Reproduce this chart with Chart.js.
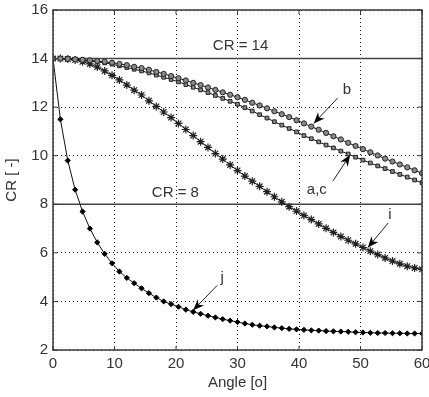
<!DOCTYPE html>
<html><head><meta charset="utf-8">
<script src="https://cdn.jsdelivr.net/npm/chart.js@4/dist/chart.umd.min.js"></script>
<style>html,body{margin:0;padding:0;background:#fff;overflow:hidden}#wrap{width:429px;height:397px;position:relative}</style>
</head><body><div id="wrap"><canvas id="c" width="429" height="397"></canvas></div>
<script>
// ---- data ----
const angles = [0,1.2,2.4,3.6,4.8,6,7.2,8.4,9.6,10.8,12,13.2,14.4,15.6,16.8,18,19.2,20.4,21.6,22.8,24,25.2,26.4,27.6,28.8,30,31.2,32.4,33.6,34.8,36,37.2,38.4,39.6,40.8,42,43.2,44.4,45.6,46.8,48,49.2,50.4,51.6,52.8,54,55.2,56.4,57.6,58.8,60];
const seriesB = [14.00,14.00,13.99,13.97,13.95,13.93,13.90,13.87,13.83,13.78,13.73,13.66,13.61,13.54,13.45,13.37,13.28,13.19,13.10,13.00,12.91,12.81,12.71,12.61,12.51,12.41,12.30,12.18,12.07,11.95,11.83,11.71,11.59,11.46,11.33,11.20,11.07,10.94,10.80,10.67,10.53,10.40,10.27,10.14,10.01,9.88,9.76,9.64,9.52,9.40,9.28];
const seriesAC = [14.00,14.00,13.99,13.96,13.93,13.90,13.86,13.82,13.77,13.70,13.63,13.56,13.49,13.41,13.32,13.23,13.14,13.04,12.93,12.82,12.71,12.60,12.48,12.36,12.24,12.12,11.98,11.84,11.69,11.55,11.40,11.26,11.12,10.98,10.83,10.70,10.57,10.44,10.32,10.19,10.07,9.94,9.82,9.70,9.58,9.47,9.35,9.23,9.12,9.00,8.89];
const seriesI = [14.0,14.0,13.98,13.94,13.87,13.78,13.65,13.49,13.31,13.12,12.91,12.70,12.50,12.26,12.03,11.80,11.57,11.33,11.08,10.83,10.58,10.34,10.09,9.86,9.62,9.39,9.16,8.95,8.74,8.52,8.31,8.10,7.90,7.72,7.54,7.37,7.19,7.01,6.84,6.67,6.52,6.37,6.22,6.07,5.93,5.79,5.66,5.55,5.45,5.38,5.32];
const seriesJ = [14.0,11.5,9.8,8.6,7.7,7.0,6.43,5.96,5.57,5.23,4.97,4.75,4.54,4.34,4.16,4.0,3.89,3.78,3.66,3.57,3.49,3.41,3.34,3.27,3.21,3.15,3.09,3.04,3.0,2.97,2.93,2.9,2.87,2.85,2.83,2.81,2.8,2.78,2.77,2.76,2.75,2.73,2.72,2.71,2.70,2.70,2.69,2.69,2.68,2.68,2.68];
const refLevels = [14, 8];
const refLabels = ["CR = 14", "CR = 8"];
const xRange = [0, 60];
const yRange = [2, 16];
const xTicks = [0,10,20,30,40,50,60];
const yTicks = [2,4,6,8,10,12,14,16];
const xTitle = "Angle [o]";
const yTitle = "CR [ -]";
// annotation placement (data units)
const refLabelPos = [[30.5,14.52],[19.9,8.47]];
const curveNotes = [
  {text:"b",   label:[47.8,12.7], tail:[46.3,12.38], tip:[42.4,11.33]},
  {text:"a,c", label:[42.9,8.59], tail:[45.5,8.95],  tip:[48.3,10.03]},
  {text:"i",   label:[54.8,7.56], tail:[54.5,7.23],  tip:[51.2,6.22]},
  {text:"j",   label:[27.5,4.97], tail:[26.7,4.66],  tip:[22.8,3.64]}
];

const pts = arr => angles.map((a,i)=>({x:a,y:arr[i]}));
const FONT = '"Liberation Sans", Arial, sans-serif';

const deco = {
  id:'deco',
  afterDatasetsDraw(chart){
    const {ctx, chartArea:a, scales:{x,y}} = chart;
    ctx.save();
    // frame
    ctx.strokeStyle='#3a3a3a'; ctx.lineWidth=1.5;
    ctx.strokeRect(a.left, a.top, a.right-a.left, a.bottom-a.top);
    // inward ticks
    ctx.lineWidth=1; ctx.strokeStyle='#3a3a3a';
    ctx.beginPath();
    xTicks.forEach(v=>{const p=x.getPixelForValue(v);ctx.moveTo(p,a.bottom);ctx.lineTo(p,a.bottom-4);ctx.moveTo(p,a.top);ctx.lineTo(p,a.top+4);});
    yTicks.forEach(v=>{const p=y.getPixelForValue(v);ctx.moveTo(a.left,p);ctx.lineTo(a.left+4,p);ctx.moveTo(a.right,p);ctx.lineTo(a.right-4,p);});
    ctx.stroke();
    // reference labels
    ctx.fillStyle='#333'; ctx.font='15px '+FONT; ctx.textAlign='center'; ctx.textBaseline='middle';
    refLabels.forEach((t,i)=>{ctx.fillText(t, x.getPixelForValue(refLabelPos[i][0]), y.getPixelForValue(refLabelPos[i][1]));});
    // curve notes with arrows
    curveNotes.forEach(n=>{
      const lx=x.getPixelForValue(n.label[0]), ly=y.getPixelForValue(n.label[1]);
      ctx.fillStyle='#333'; ctx.fillText(n.text, lx, ly);
      const tx=x.getPixelForValue(n.tail[0]), ty=y.getPixelForValue(n.tail[1]);
      const hx=x.getPixelForValue(n.tip[0]), hy=y.getPixelForValue(n.tip[1]);
      ctx.strokeStyle='#222'; ctx.lineWidth=1;
      ctx.beginPath(); ctx.moveTo(tx,ty); ctx.lineTo(hx,hy); ctx.stroke();
      const ang=Math.atan2(hy-ty,hx-tx), L=11, W=4.5;
      const bx=hx-L*Math.cos(ang), by=hy-L*Math.sin(ang);
      const nx=hx-(L*0.7)*Math.cos(ang), ny=hy-(L*0.7)*Math.sin(ang);
      ctx.fillStyle='#000';
      ctx.beginPath(); ctx.moveTo(hx,hy);
      ctx.lineTo(bx+W*Math.sin(ang), by-W*Math.cos(ang));
      ctx.lineTo(nx,ny);
      ctx.lineTo(bx-W*Math.sin(ang), by+W*Math.cos(ang));
      ctx.closePath(); ctx.fill();
    });
    ctx.restore();
  }
};

const curveBase = {showLine:true, borderColor:'#111', borderWidth:1, tension:0, fill:false};
new Chart(document.getElementById('c'), {
  type:'scatter',
  data:{datasets:[
    {...curveBase, label:'b', data:pts(seriesB), pointStyle:'circle', pointRadius:2.6, pointBackgroundColor:'#8a8a8a', pointBorderColor:'#222', pointBorderWidth:1},
    {...curveBase, label:'a,c', data:pts(seriesAC), pointStyle:'rect', pointRadius:2.6, pointBackgroundColor:'#8a8a8a', pointBorderColor:'#222', pointBorderWidth:1},
    {...curveBase, label:'i', data:pts(seriesI), pointStyle:'star', pointRadius:4, pointBorderColor:'#222', pointBackgroundColor:'#222', pointBorderWidth:1.2},
    {...curveBase, label:'j', data:pts(seriesJ), pointStyle:'rectRot', pointRadius:2.6, pointBackgroundColor:'#000', pointBorderColor:'#000', pointBorderWidth:1},
    ...refLevels.map(v=>({label:'CR'+v, data:[{x:xRange[0],y:v},{x:xRange[1],y:v}], showLine:true, borderColor:'#444', borderWidth:1.5, pointRadius:0}))
  ]},
  options:{
    responsive:false, animation:false, events:[],
    layout:{padding:{left:0,right:7,top:10,bottom:0}},
    plugins:{legend:{display:false}, tooltip:{enabled:false}},
    scales:{
      x:{type:'linear', min:xRange[0], max:xRange[1],
        afterBuildTicks:s=>{s.ticks=xTicks.map(v=>({value:v}));},
        afterFit:s=>{s.height=47; s.paddingLeft=0; s.paddingRight=0;},
        ticks:{color:'#333', font:{size:15, family:FONT}, padding:5, maxRotation:0, autoSkip:false},
        grid:{color:'#111', lineWidth:1, drawTicks:false},
        border:{display:false, dash:[1,3]},
        title:{display:true, text:xTitle, color:'#333', font:{size:15, family:FONT}, padding:{top:0,bottom:5}}
      },
      y:{type:'linear', min:yRange[0], max:yRange[1],
        afterBuildTicks:s=>{s.ticks=yTicks.map(v=>({value:v}));},
        afterFit:s=>{s.width=53; s.paddingTop=0; s.paddingBottom=0;},
        ticks:{color:'#333', font:{size:15, family:FONT}, padding:5, autoSkip:false},
        grid:{color:'#111', lineWidth:1, drawTicks:false},
        border:{display:false, dash:[1,3]},
        title:{display:true, text:yTitle, color:'#333', font:{size:15, family:FONT}, padding:{top:3,bottom:0}}
      }
    }
  },
  plugins:[deco]
});
</script></body></html>
